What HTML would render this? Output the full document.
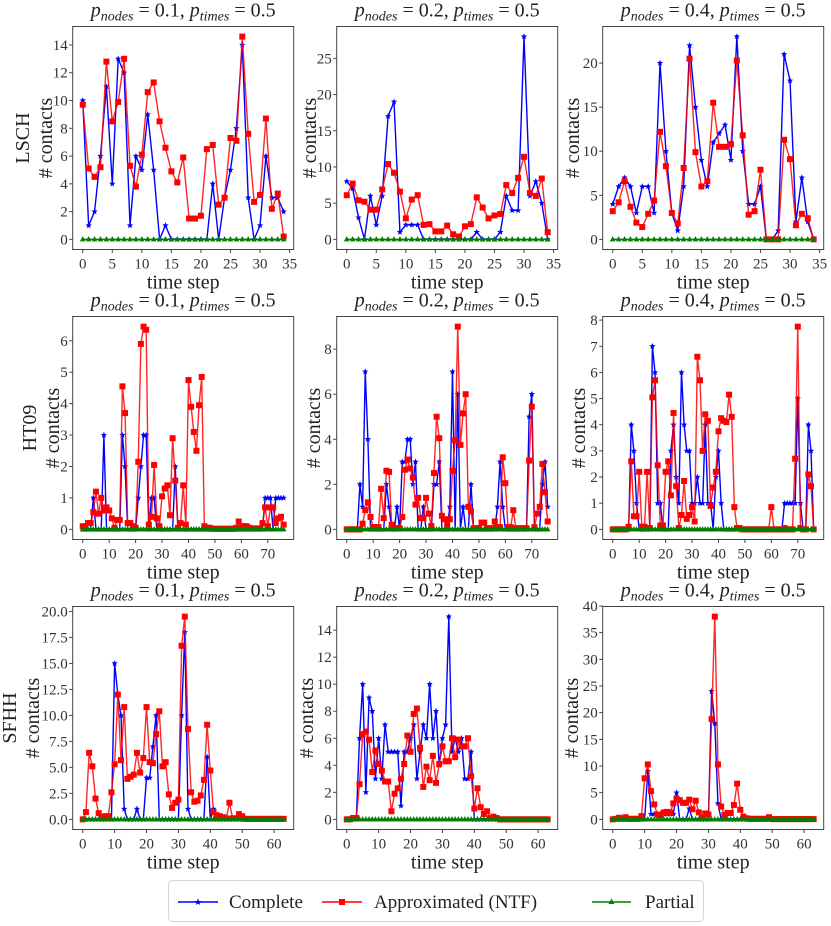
<!DOCTYPE html>
<html><head><meta charset="utf-8">
<style>
html,body{margin:0;padding:0;background:#fff;}
svg{display:block;font-family:"Liberation Serif","DejaVu Serif",serif;}
</style></head>
<body>
<svg id="fig" width="831" height="926" viewBox="0 0 831 926" xmlns="http://www.w3.org/2000/svg">
<g id="panels"></g>
<g>
<rect x="168.5" y="880.5" width="535" height="41" rx="4" fill="#fff" stroke="#d5d5d5" stroke-width="1"/>
<g>
<line x1="178" y1="902" x2="218" y2="902" stroke="#0000ff" stroke-width="1.4"/>
<polygon points="198,898.5 199,901 201.5,901 199.5,902.6 200.3,905 198,903.6 195.7,905 196.5,902.6 194.5,901 197,901" fill="#0000ff"/>
<text x="229" y="908" font-size="19" fill="#222">Complete</text>
</g>
<g>
<line x1="322" y1="902" x2="362" y2="902" stroke="#ff0000" stroke-width="1.4"/>
<rect x="339" y="899" width="6" height="6" fill="#ff0000"/>
<text x="374" y="908" font-size="19" fill="#222">Approximated (NTF)</text>
</g>
<g>
<line x1="592" y1="902" x2="631" y2="902" stroke="#008000" stroke-width="1.4"/>
<polygon points="611.5,898.5 614.5,904 608.5,904" fill="#008000"/>
<text x="645" y="908" font-size="19" fill="#222">Partial</text>
</g>
</g>
</svg>
<script>
// ---- data ----
const datasets = ["LSCH", "HT09", "SFHH"];
const pNodes = ["0.1", "0.2", "0.4"];
const pTimes = "0.5";

const completeLSCH_01 = [10,1,2,6,11,4,13,12,1,6,5,9,5,0,1,0,0,0,0,0,0,0,4,0,3,5,8,14,3,0,1,6,3,3,2];
const approxLSCH_01 = [9.7,5.1,4.5,5.2,12.8,8.5,9.9,13,5.3,3.8,6.1,10.6,11.3,8.5,6.6,4.9,4.1,5.9,1.5,1.5,1.7,6.5,6.8,2.5,3,7.3,7.1,14.6,7.6,2.7,3.2,8.7,2.2,3.3,0.2];
const completeLSCH_02 = [8,7,3,0,6,2,6,17,19,1,2,2,2,0,0,0,0,0,0,0,0,0,1,0,0,0,1,6,4,4,28,6,8,5,0];
const approxLSCH_02 = [6.1,7.7,5.4,5.2,4.1,4.1,6.9,10.4,9.2,6.6,2.9,5.5,6.1,2,2.1,1.1,1.1,1.9,0.7,0.4,1.8,2.1,5.8,4.4,2.9,3.3,3.5,7.5,6.4,8.5,11.4,6.4,6,8.4,1];
const completeLSCH_04 = [4,6,7,6,3,6,6,3,20,10,3,1,6,22,15,9,6,11,12,13,9,23,10,4,4,6,0,0,1,21,18,2,7,2,0];
const approxLSCH_04 = [3.2,4.2,6.6,3.7,1.9,1.4,2.9,4.4,12.2,8.3,3,1.8,8.1,20.5,9.9,6,6.6,15.5,10.5,10.5,10.8,20.3,11.8,2.8,3.2,7.9,0,0,0,11.3,9.1,1.6,2.9,2.4,0];
const partialLSCH = [0,0,0,0,0,0,0,0,0,0,0,0,0,0,0,0,0,0,0,0,0,0,0,0,0,0,0,0,0,0,0,0,0,0,0];

const completeHT09_01 = [0,0,0,0,1,0,0,0,3,0, 0,0,0,0,0,3,2,0,0,0, 0,1,2,3,3,0,1,1,0,0, 0,0,0,0,0,2,0,0,0,0, 0,0,0,0,0,0,0,0,0,0, 0,0,0,0,0,0,0,0,0,0, 0,0,0,0,0,0,0,0,0,1, 1,1,0,1,1,1,1];
const approxHT09_01 = [.1,.1,.2,.2,.55,1.2,.5,1.0,.6,.7, .6,.35,.05,.3,.3,4.55,3.7,.2,.2,.1, .05,2.15,5.9,6.45,6.35,.15,.4,2.05,.35,.1, 1.05,1.3,1.4,.45,2.9,1.55,.05,.2,1.4,.15, 4.75,3.9,3.1,2.5,3.95,4.85,.1,.05,.05,.02, .02,.02,.02,.02,.02,.02,.02,.02,.05,.25, .1,.1,.1,.05,.03,.03,.03,.03,.2,.7, .1,.7,.7,.2,.35,.4,.15];
const completeHT09_02 = [0,0,0,0,0,2,1,7,4,0, 0,0,0,0,0,2,1,0,0,1, 0,3,3,4,4,2,3,0,0,1, 0,0,0,2,2,3,0,0,0,1, 7,0,6,0,1,0,0,2,0,0, 0,0,0,0,0,0,0,1,3,1, 0,0,0,0,0,0,0,0,0,5, 6,0,0,0,2,3,1];
const approxHT09_02 = [0,0,0,0,0,0,.25,.85,1.2,.55, .1,.1,.1,1.8,.5,2.6,2.55,.2,.05,.05, .05,.55,2.65,3.1,2.7,2.3,1.1,1.4,.5,.5, 1.4,.7,.15,2.5,5,4.05,.6,.45,.2,.45, 2.6,3.95,9,3.75,5.15,6,1,.8,.05,.05, .05,.3,.3,.05,.05,.05,.35,.1,.1,3.2, 2.05,.1,.1,.85,.05,.05,.05,.05,.05,3.05, 5.45,.1,.7,1,2.9,1.65,.35];
const completeHT09_04 = [0,0,0,0,0,0,0,4,3,1, 0,0,0,0,0,7,6,1,1,0, 0,0,3,4,2,1,6,4,3,3, 1,1,2,1,1,4,1,1,0,2, 3,1,0,0,0,0,0,0,0,0, 0,0,0,0,0,0,0,0,0,0, 0,0,0,0,0,1,1,1,1,1, 5,1,0,0,4,3,0];
const approxHT09_04 = [0,0,0,0,0,0,.1,2.6,.5,.5, 2.2,.1,.1,2.2,.05,5.05,5.7,2.45,.15,.15, 2.2,2.6,1.3,4.45,1.65,.05,.55,1.85,.4,.55, .85,.3,6.6,5.7,3,4.4,4.15,.9,1.6,2.2, 3.75,4.25,4.15,4.1,5.15,4.3,.85,.05,.05,0, 0,0,0,0,0,0,0,0,0,0, .85,0,0,0,0,.05,0,0,0,2.7, 7.75,.05,0,0,2.1,1.65,0];
const partialHT09 = [0,0,0,0,0,0,0,0,0,0, 0,0,0,0,0,0,0,0,0,0, 0,0,0,0,0,0,0,0,0,0, 0,0,0,0,0,0,0,0,0,0, 0,0,0,0,0,0,0,0,0,0, 0,0,0,0,0,0,0,0,0,0, 0,0,0,0,0,0,0,0,0,0, 0,0,0,0,0,0,0];

const completeSFHH_01 = [0,0,0,0,0,0,0,0,0,0, 15,12,10,1,0,0,0,1,0,0, 4,4,7,10,0,0,0,0,0,0, 0,10,18,1,0,0,0,0,0,6, 0,1,0,0,0,0,0,0,0,0, 0,0,0,0,0,0,0,0,0,0, 0,0,0,0];
const approxSFHH_01 = [0,.7,6.4,5.1,2,.6,.2,.3,.3,2.6, 5.3,12,5.7,10.8,3.9,4.1,4.3,6.4,4.5,5.9, 10.8,5.5,5.4,8.2,10.4,5.1,5.5,2.4,1.1,1.6, 1.9,16.7,19.5,8.7,2.6,1.7,1.8,2.3,3.8,9.1, 4.7,.7,.4,.3,.2,.1,1.6,.1,.1,.5, .3,.05,.05,.05,.05,.05,.05,.05,.05,.05, .05,.05,.05,.05];
const completeSFHH_02 = [0,0,0,0,6,10,2,9,8,3, 6,3,7,5,5,5,5,1,5,5, 6,7,3,5,7,6,10,6,8,4, 6,7,15,5,6,5,6,3,3,5, 0,0,0,0,0,0,0,0,0,0, 0,0,0,0,0,0,0,0,0,0, 0,0,0,0];
const approxSFHH_02 = [0,0,.1,.1,2.6,6.3,6.5,5.9,3.5,5.1, 4.1,3.6,2.8,2.8,.6,1.9,2.3,3,4.1,6.2, 5,7.8,8.2,5.3,2.4,3.9,2.9,4.7,2.7,4.1, 5.4,4.3,4.3,6,4.6,5.9,5.4,5.4,6,3.2, .8,2.3,.9,.4,.6,.1,.2,.1,0,0, 0,0,0,0,0,0,0,0,0,0, 0,0,0,0];
const completeSFHH_04 = [0,0,0,0,0,0,0,0,0,0, 0,9,1,1,1,1,1,1,1,1, 5,0,0,0,2,0,0,0,0,0, 0,24,18,3,0,0,0,0,0,0, 0,0,0,0,0,0,0,0,0,0, 0,0,0,0,0,0,0,0,0,0, 0,0,0,0];
const approxSFHH_04 = [0,.1,.3,.1,.4,.1,.1,.1,.1,.6, 7.7,10.3,5.3,2.8,.9,.8,1.3,1.4,1.3,3, 3.9,3.6,3.1,3.1,3.7,1.9,3.5,1.3,.3,1.1, .9,18.8,38,10.3,2.4,.8,1.2,1.2,2.7,6.7, 1.8,.5,.2,.1,.1,.1,.1,.1,.1,.4, .05,.05,.05,.05,.05,.05,.05,.05,.05,.05, .05,.05,.05,.05];
const partialSFHH = [0,0,0,0,0,0,0,0,0,0, 0,0,0,0,0,0,0,0,0,0, 0,0,0,0,0,0,0,0,0,0, 0,0,0,0,0,0,0,0,0,0, 0,0,0,0,0,0,0,0,0,0, 0,0,0,0,0,0,0,0,0,0, 0,0,0,0];

const xTicksLSCH = [0,5,10,15,20,25,30,35];
const xTicksHT09 = [0,10,20,30,40,50,60,70];
const xTicksSFHH = [0,10,20,30,40,50,60];
const yTicksLSCH_01 = [0,2,4,6,8,10,12,14];
const yTicksLSCH_02 = [0,5,10,15,20,25];
const yTicksLSCH_04 = [0,5,10,15,20];
const yTicksHT09_01 = [0,1,2,3,4,5,6];
const yTicksHT09_02 = [0,2,4,6,8];
const yTicksHT09_04 = [0,1,2,3,4,5,6,7,8];
const yTicksSFHH_01 = [0,2.5,5,7.5,10,12.5,15,17.5,20];
const yTicksSFHH_02 = [0,2,4,6,8,10,12,14];
const yTicksSFHH_04 = [0,5,10,15,20,25,30,35,40];

// ---- layout ----
const NS = "http://www.w3.org/2000/svg";
const colL = [72.7, 336.7, 602.7], PW = 221;
const rowT = [26.5, 316.5, 606.5], PH = 223;
const ylabX = [[46,310,573],[53,314,579],[33,307,572]];
const rowLabX = [23,30,10];

const panels = [
 [[completeLSCH_01,approxLSCH_01,partialLSCH,yTicksLSCH_01,xTicksLSCH,0],
  [completeLSCH_02,approxLSCH_02,partialLSCH,yTicksLSCH_02,xTicksLSCH,0],
  [completeLSCH_04,approxLSCH_04,partialLSCH,yTicksLSCH_04,xTicksLSCH,0]],
 [[completeHT09_01,approxHT09_01,partialHT09,yTicksHT09_01,xTicksHT09,0],
  [completeHT09_02,approxHT09_02,partialHT09,yTicksHT09_02,xTicksHT09,0],
  [completeHT09_04,approxHT09_04,partialHT09,yTicksHT09_04,xTicksHT09,0]],
 [[completeSFHH_01,approxSFHH_01,partialSFHH,yTicksSFHH_01,xTicksSFHH,1],
  [completeSFHH_02,approxSFHH_02,partialSFHH,yTicksSFHH_02,xTicksSFHH,0],
  [completeSFHH_04,approxSFHH_04,partialSFHH,yTicksSFHH_04,xTicksSFHH,0]]
];

function mk(tag, attrs, parent){
  const e = document.createElementNS(NS, tag);
  for (const k in attrs) e.setAttribute(k, attrs[k]);
  if (parent) parent.appendChild(e);
  return e;
}
function starPts(cx, cy, r){
  const p=[];
  for(let i=0;i<10;i++){const a=-Math.PI/2+i*Math.PI/5;const rr=i%2?r*0.45:r;p.push((cx+rr*Math.cos(a)).toFixed(2)+","+(cy+rr*Math.sin(a)).toFixed(2));}
  return p.join(" ");
}

const root = document.getElementById("panels");
for (let r=0;r<3;r++){
  for (let c=0;c<3;c++){
    const [comp, appr, part, yT, xT, dec] = panels[r][c];
    const L = colL[c], T = rowT[r];
    const n = comp.length;
    const x0 = -0.05*(n-1), x1 = (n-1)*1.05;
    const allV = comp.concat(appr, part);
    const vmin = Math.min(...allV), vmax = Math.max(...allV);
    const y0 = vmin - 0.05*(vmax-vmin), y1 = vmax + 0.05*(vmax-vmin);
    const sx = v => L + (v-x0)/(x1-x0)*PW;
    const sy = v => T + PH - (v-y0)/(y1-y0)*PH;

    const g = mk("g", {}, root);
    
    

    const t = mk("text", {x: L+PW/2, y: T-10, "text-anchor":"middle", "font-size":"20", fill:"#222"}, g);
    
    
    t.innerHTML = '<tspan font-style="italic">p</tspan><tspan font-style="italic" font-size="14" dy="4">nodes</tspan><tspan dy="-4"> = '+pNodes[c]+', </tspan><tspan font-style="italic">p</tspan><tspan font-style="italic" font-size="14" dy="4">times</tspan><tspan dy="-4"> = '+pTimes+'</tspan>';

    const fr = mk("rect", {x:L, y:T, width:PW, height:PH, fill:"none", stroke:"#444", "stroke-width":"1"}, g);
    
    

    yT.forEach(v=>{
      const y = sy(v);
      const tk = mk("line", {x1:L-3.5, x2:L, y1:y, y2:y, stroke:"#444", "stroke-width":"1"}, g);
      
      
      const tl = mk("text", {x:L-5, y:y+5, "text-anchor":"end", "font-size":"15", fill:"#333"}, g);
      
      
      tl.textContent = dec ? v.toFixed(1) : String(v);
    });
    xT.forEach(v=>{
      const x = sx(v);
      const tk = mk("line", {x1:x, x2:x, y1:T+PH, y2:T+PH+3.5, stroke:"#444", "stroke-width":"1"}, g);
      
      
      const tl = mk("text", {x:x, y:T+PH+19, "text-anchor":"middle", "font-size":"15", fill:"#333"}, g);
      
      
      tl.textContent = String(v);
    });
    const xl = mk("text", {x:L+PW/2, y:T+PH+39, "text-anchor":"middle", "font-size":"20", fill:"#222"}, g);
    
    
    xl.textContent = "time step";
    const cy = T+PH/2;
    const yl = mk("text", {x:0, y:0, "text-anchor":"middle", "font-size":"20", fill:"#222", transform:"translate("+(ylabX[r][c]+6)+","+cy+") rotate(-90)"}, g);
    
    
    yl.textContent = "# contacts";
    if (c===0){
      const rl = mk("text", {x:0, y:0, "text-anchor":"middle", "font-size":"20", fill:"#222", transform:"translate("+(rowLabX[r]+6)+","+cy+") rotate(-90)"}, g);
      
      
      rl.textContent = datasets[r];
    }

    const series = [[comp,"#0000ff","star"],[appr,"#ff0000","square"],[part,"#008000","tri"]];
    const names = ["complete","approximated","partial"];
    series.forEach(([vals,col,mkType],si)=>{
      const sg = mk("g", {}, g);
      
      
      const pts = vals.map((v,i)=>sx(i).toFixed(2)+","+sy(v).toFixed(2)).join(" ");
      const pl = mk("polyline", {points:pts, fill:"none", stroke:col, "stroke-width":"1.4", "stroke-linejoin":"round", opacity: si===1?"0.85":"1"}, sg);
      
      
      vals.forEach((v,i)=>{
        const x=sx(i), y=sy(v);
        let m;
        if (mkType==="star") m = mk("polygon", {points:starPts(x,y,3.3), fill:col}, sg);
        else if (mkType==="square") m = mk("rect", {x:x-3, y:y-3, width:6, height:6, fill:col}, sg);
        else m = mk("polygon", {points:x+","+(y-3.2)+" "+(x+2.9)+","+(y+2)+" "+(x-2.9)+","+(y+2), fill:col}, sg);
        
        
      });
    });
  }
}
</script>
</body></html>
